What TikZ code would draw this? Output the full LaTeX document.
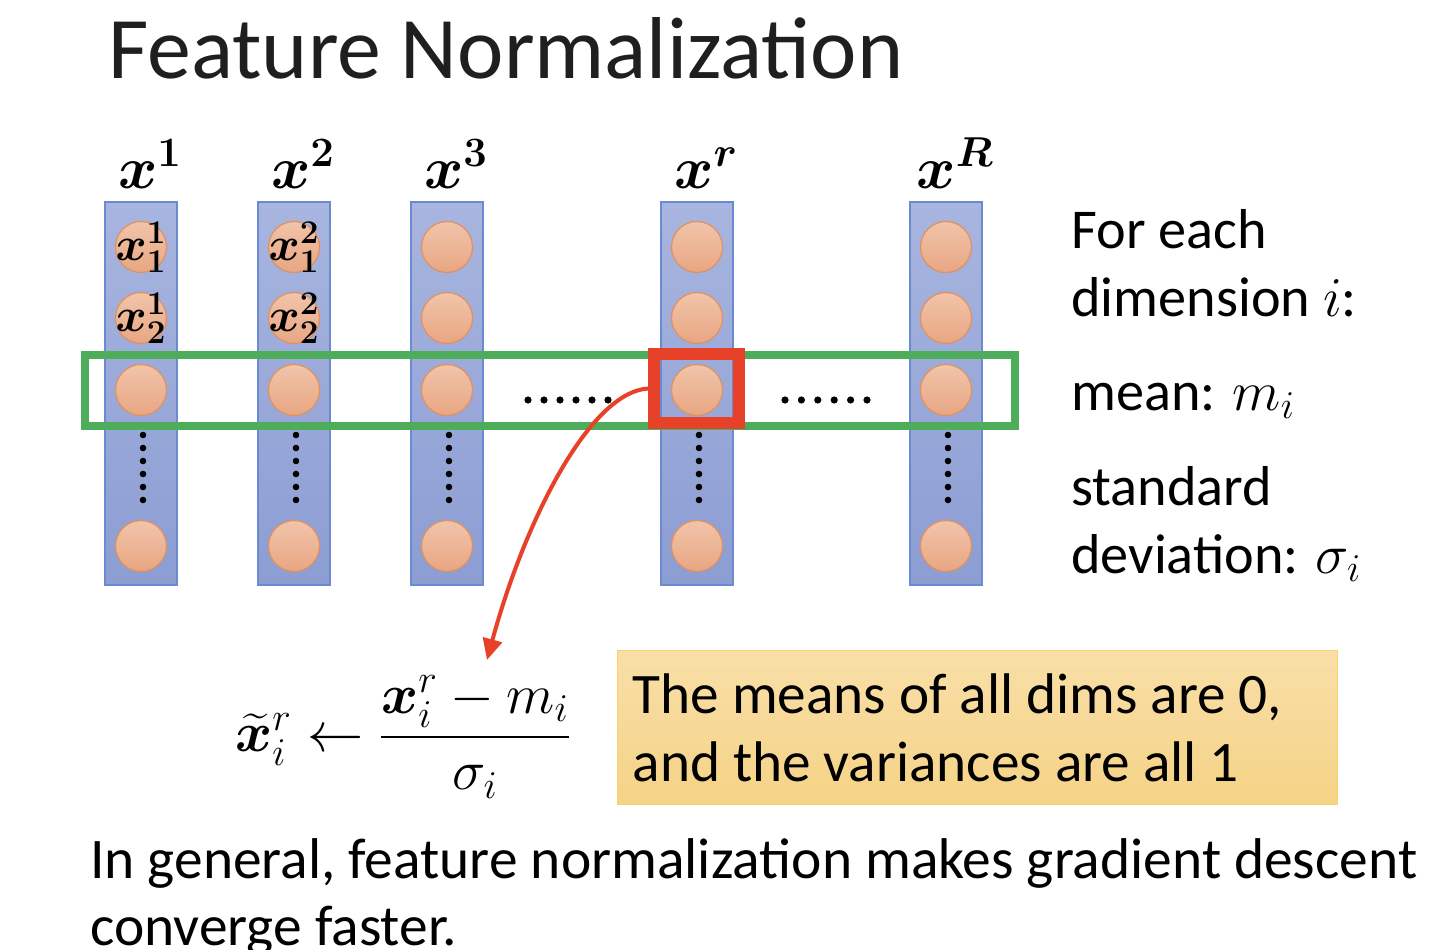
\RequirePackage{fix-cm}
\documentclass[tikz,border=0pt]{standalone}
\usepackage{amsmath,bm}
\usepackage{fontspec}
\setmainfont{Carlito}
\usetikzlibrary{arrows.meta}

\definecolor{coltop}{HTML}{A8B5DF}
\definecolor{colbottom}{HTML}{8C9DD3}
\definecolor{colline}{HTML}{6C8AD2}
\definecolor{dotlight}{HTML}{F1C4AA}
\definecolor{dotdark}{HTML}{E8A682}
\definecolor{dotline}{HTML}{DE9262}
\definecolor{rowgreen}{HTML}{4EAD5B}
\definecolor{pickred}{HTML}{E8412A}
\definecolor{notetop}{HTML}{F9DFA8}
\definecolor{notebottom}{HTML}{F5D386}
\definecolor{noteline}{HTML}{F8D368}

\tikzset{
  column/.style={draw=colline, line width=0.7pt, top color=coltop,
    bottom color=colbottom, minimum width=1.44cm, minimum height=7.66cm,
    inner sep=0pt},
  dot/.style={circle, draw=dotline, line width=0.7pt, top color=dotlight,
    bottom color=dotdark, minimum size=1.02cm, inner sep=0pt},
  dotlabel/.style={inner sep=0pt, font=\fontsize{27}{30}\selectfont},
  collabel/.style={font=\fontsize{34}{40}\selectfont, inner sep=0pt},
  rowbox/.style={draw=rowgreen, line width=4.5pt, minimum width=18.6cm,
    minimum height=1.42cm, inner sep=0pt},
  pickbox/.style={draw=pickred, line width=6.8pt, minimum width=1.7cm,
    minimum height=1.38cm, inner sep=0pt},
  pickarrow/.style={draw=pickred, line width=2.3pt,
    -{Triangle[length=12pt,width=11pt]}},
  body/.style={font=\fontsize{32}{38}\selectfont, inner sep=0pt},
  note/.style={draw=noteline, line width=0.7pt, top color=notetop,
    bottom color=notebottom, anchor=north west, minimum width=14.4cm,
    minimum height=3.08cm, text width=13.8cm, align=flush left,
    inner xsep=0.3cm, font=\fontsize{32.6}{38.7}\selectfont},
}

\begin{document}
\begin{tikzpicture}[x=0.02cm,y=-0.02cm]
  \useasboundingbox (0,0) rectangle (1434,950);
  \clip (0,0) rectangle (1434,950);

  \node[font=\fontsize{50}{56}\selectfont, text=black!88, inner sep=0pt,
    anchor=base west] (title) at (108,78) {Feature Normalization};

  % feature vectors
  \foreach \name/\cx/\lab in {c1/141/1, c2/294/2, c3/447/3, cr/697/r, cR/946/R}{
    \node[column] (\name) at (\cx,393.5) {};
    \node[collabel, anchor=base] (\name-label) at (\cx+9,188) {$\bm{x^{\lab}}$};
    \foreach \k/\cy in {1/247, 2/318, 3/390, 4/546}
      \node[dot] (\name-\k) at (\cx,\cy) {};
    \foreach \d in {0,...,5}
      \fill (\cx+2,435+13*\d) circle (3.3);
  }
  \node[dotlabel] at (c1-1) {$\bm{x_1^1}$};
  \node[dotlabel] at (c1-2) {$\bm{x_2^1}$};
  \node[dotlabel] at (c2-1) {$\bm{x_1^2}$};
  \node[dotlabel] at (c2-2) {$\bm{x_2^2}$};

  % dimension i across all vectors
  \node[rowbox] (row) at (550,390.5) {};
  \node[pickbox] (pick) at (696.5,388.5) {};
  \foreach \d in {0,...,5}{
    \fill (528+16*\d,400) circle (3.6);
    \fill (785+16.4*\d,400) circle (3.6);
  }

  \node[body, anchor=base west] (each) at (1071,248) {For each};
  \node[body, anchor=base west] (dim) at (1071,316) {dimension $i$:};
  \node[body, anchor=base west] (mean) at (1071,410) {mean: $m_i$};
  \node[body, anchor=base west] (std) at (1071,505) {standard};
  \node[body, anchor=base west] (dev) at (1071,573) {deviation: $\sigma_i$};

  % normalization
  \node[collabel, font=\fontsize{32}{38}\selectfont] (update) at (403,737)
    {$\widetilde{\bm{x}}_i^r \leftarrow \dfrac{\bm{x}_i^r - m_i}{\sigma_i}$};
  \coordinate (tip) at (487,660);
  \draw[pickarrow] (pick.west) .. controls (590,392) and (525,520) .. (tip);

  \node[note] (result) at (617,650)
    {The means of all dims are 0,\\and the variances are all 1};

  \node[body, anchor=base west, font=\fontsize{32.7}{38}\selectfont]
    (summary) at (90,878)
    {In general, feature normalization makes gradient descent};
  \node[body, anchor=base west, font=\fontsize{32.7}{38}\selectfont]
    (summary-end) at (90,945) {converge faster.};
\end{tikzpicture}
\end{document}
